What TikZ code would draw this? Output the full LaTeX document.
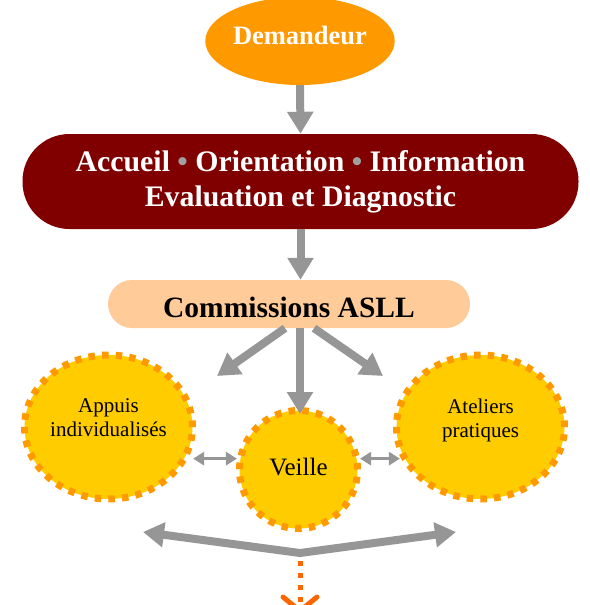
\documentclass[tikz,border=0pt]{standalone}
\usepackage{fontspec}
\setmainfont{Liberation Serif}
\usetikzlibrary{arrows.meta,shapes.geometric}
\definecolor{dorange}{HTML}{FF9900}
\definecolor{darkmaroon}{HTML}{800000}
\definecolor{peach}{HTML}{FFCC99}
\definecolor{gold}{HTML}{FFCC00}
\definecolor{agray}{HTML}{969696}
\definecolor{bgray}{HTML}{A0A0A0}
\definecolor{rorange}{HTML}{FF6600}
\tikzset{
  bigarrow/.style={draw=agray, line width=8pt, -{Triangle[length=22pt,width=25pt]}},
  bigdbl/.style={draw=agray, line width=8pt, {Triangle[length=21pt,width=24pt]}-{Triangle[length=21pt,width=24pt]}},
  smalldbl/.style={draw=agray, line width=3pt, {Triangle[length=11pt,width=13pt]}-{Triangle[length=11pt,width=13pt]}},
  bubble/.style={fill=gold, draw=dorange, line width=7pt, dash pattern=on 6.5pt off 7.13pt, inner sep=0pt},
  bubtext/.style={font=\fontsize{21}{24}\selectfont, align=center, inner sep=0pt, anchor=north},
  dotline/.style={draw=rorange, line width=5pt, dash pattern=on 5pt off 7pt},
}
\begin{document}
\begin{tikzpicture}[x=1pt,y=-1pt]
\useasboundingbox (0,0) rectangle (589,605);
\clip (0,0) rectangle (589,605);

\node[ellipse, fill=dorange, minimum width=172pt, minimum height=88pt, inner sep=0pt,
      text=white, font=\fontsize{26.5}{30}\selectfont\bfseries, text height=18pt, text depth=12pt] (dem) at (300,41) {Demandeur};

\node[rectangle, rounded corners=47pt, fill=darkmaroon, minimum width=556pt, minimum height=95pt, inner sep=0pt,
      text=white, font=\fontsize{29.8}{35}\selectfont\bfseries, align=center] (acc) at (300.5,181.5)
      {Accueil {\color{bgray}•} Orientation {\color{bgray}•} Information\\Evaluation et Diagnostic};

\node[rectangle, rounded corners=24pt, fill=peach, minimum width=362pt, minimum height=48pt, inner sep=0pt,
      font=\fontsize{29.5}{35}\selectfont\bfseries, text height=26pt, text depth=0pt] (com) at (289,304) {Commissions ASLL};

\node[ellipse, bubble, minimum width=168pt, minimum height=144pt] (app) at (108.5,427) {};
\node[bubtext] (appt) at (108.5,398.5) {Appuis\\individualisés};

\node[ellipse, bubble, minimum width=168pt, minimum height=144pt] (ate) at (480.5,427) {};
\node[bubtext] (atet) at (480.5,398.5) {Ateliers\\pratiques};

\node[circle, bubble, dash pattern=on 6.5pt off 7.23pt, minimum size=118pt, font=\fontsize{25}{30}\selectfont, text height=17pt, text depth=5pt] (vei) at (298.5,469.5) {Veille};

% vertical arrows
\draw[bigarrow] (dem.south) -- (acc.north);
\draw[bigarrow] (acc.south) -- (acc.south |- com.north);

% three arrows from the commissions
\coordinate (tl) at (217,376);
\coordinate (tr) at (383,376);
\draw[bigarrow] ([xshift=-4pt]com.south) -- (tl);
\draw[bigarrow] ([xshift=11pt]com.south) -- ([xshift=11pt,yshift=-7pt]com.south |- vei.north);
\draw[bigarrow] ([xshift=25pt]com.south) -- (tr);

% small double arrows
\draw[smalldbl] ([xshift=4pt]app.-20 |- vei.170) -- (vei.170);
\draw[smalldbl] (vei.10) -- (ate.200 |- vei.10);

% bottom V double arrow
\coordinate (vl) at (143,532);
\coordinate (vm) at (300,553);
\coordinate (vr) at (456,532);
\draw[bigdbl] (vl) -- (vm) -- (vr);

% dotted output arrow
\coordinate (d1) at (300,561);
\coordinate (d2) at (300,604);
\coordinate (dt) at (300,611);
\draw[dotline] (d1) -- (d2);
\draw[draw=rorange, line width=5pt, line cap=round, line join=round] (283,597) -- (dt) -- (317,597);
\end{tikzpicture}
\end{document}
